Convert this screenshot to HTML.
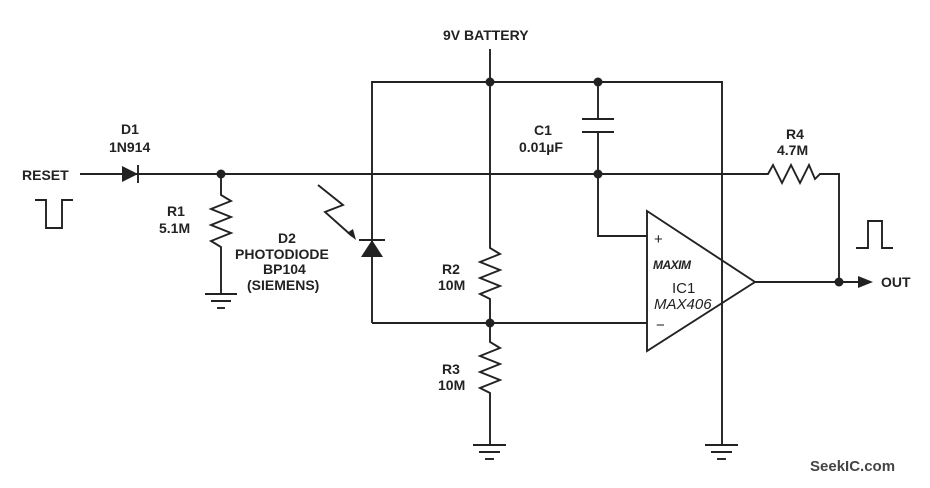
<!DOCTYPE html>
<html><head><style>
body{margin:0;background:#fff;}
svg text{font-family:"Liberation Sans",sans-serif;font-weight:bold;font-size:14px;fill:#222;}
</style></head><body>
<svg width="930" height="483" viewBox="0 0 930 483" xmlns="http://www.w3.org/2000/svg">
<g stroke="#222" stroke-width="1.9" fill="none">
<line x1="490" y1="49" x2="490" y2="82"/>
<polyline points="372,323 372,82 722,82 722,445"/>
<line x1="80" y1="174" x2="763" y2="174"/>
<polyline points="763,174 768,174 773,165 782,183 791,165 800,183 809,165 815,179 820,174 839,174 839,282"/>
<line x1="755" y1="282" x2="858" y2="282"/>
<line x1="598" y1="82" x2="598" y2="119"/>
<line x1="582" y1="119" x2="614" y2="119"/>
<line x1="582" y1="132" x2="614" y2="132"/>
<line x1="598" y1="132" x2="598" y2="174"/>
<polyline points="598,174 598,236 647,236"/>
<polygon points="647,211 755,282 647,351"/>
<line x1="372" y1="323" x2="647" y2="323"/>
<polyline points="490,82 490,243 490,248 500,254 480,262 500,270 480,278 500,286 480,294 490,299 490,342 500,348 480,356 500,364 480,372 500,380 480,388 490,393 490,445"/>
<polyline points="221,174 221,195 231,201 211,209 231,217 211,225 231,233 211,241 221,247 221,293"/>
<line x1="205" y1="294" x2="237" y2="294"/><line x1="211" y1="301" x2="231" y2="301"/><line x1="217" y1="308" x2="225" y2="308"/>
<line x1="473" y1="445" x2="506" y2="445"/><line x1="479" y1="452" x2="500" y2="452"/><line x1="485" y1="459" x2="494" y2="459"/>
<line x1="705" y1="445" x2="738" y2="445"/><line x1="711" y1="452" x2="732" y2="452"/><line x1="717" y1="459" x2="726" y2="459"/>
<line x1="138" y1="165" x2="138" y2="183"/>
<line x1="359" y1="240" x2="385" y2="240"/>
<polyline points="318,185 343,205 325,212 352,236"/>
<polyline points="35,200 46,200 46,228 62,228 62,200 73,200"/>
<polyline points="856,248 868,248 868,221 882,221 882,248 893,248"/>
</g>
<g fill="#222">
<polygon points="122,166 122,182 138,174"/>
<polygon points="372,240 361,257 383,257"/>
<polygon points="356,240 347,233 353,229"/>
<polygon points="858,276 858,288 873,282"/>
<circle cx="221" cy="174" r="4.5"/>
<circle cx="490" cy="82" r="4.5"/>
<circle cx="598" cy="82" r="4.5"/>
<circle cx="598" cy="174" r="4.5"/>
<circle cx="490" cy="323" r="4.5"/>
<circle cx="839" cy="282" r="4.5"/>
</g>
<text x="443" y="40">9V BATTERY</text>
<text x="121" y="134">D1</text>
<text x="109" y="152">1N914</text>
<text x="22" y="180">RESET</text>
<text x="167" y="216">R1</text>
<text x="159" y="233">5.1M</text>
<text x="278" y="243">D2</text>
<text x="235" y="259">PHOTODIODE</text>
<text x="263" y="274">BP104</text>
<text x="247" y="290">(SIEMENS)</text>
<text x="534" y="135">C1</text>
<text x="519" y="152">0.01µF</text>
<text x="786" y="139">R4</text>
<text x="777" y="155">4.7M</text>
<text x="442" y="274">R2</text>
<text x="438" y="290">10M</text>
<text x="442" y="374">R3</text>
<text x="438" y="390">10M</text>
<text x="654" y="244" style="font-weight:normal;font-size:15px">+</text>
<text x="656" y="330" style="font-weight:normal;font-size:15px">−</text>
<text x="653" y="269" style="font-style:italic;font-size:12px;letter-spacing:-0.5px">MAXIM</text>
<text x="672" y="293" style="font-weight:normal;font-size:15px">IC1</text>
<text x="654" y="309" style="font-style:italic;font-weight:normal;font-size:15px">MAX406</text>
<text x="881" y="287">OUT</text>
<text x="810" y="471" style="font-size:15px;fill:#444">SeekIC.com</text>
</svg>
</body></html>
